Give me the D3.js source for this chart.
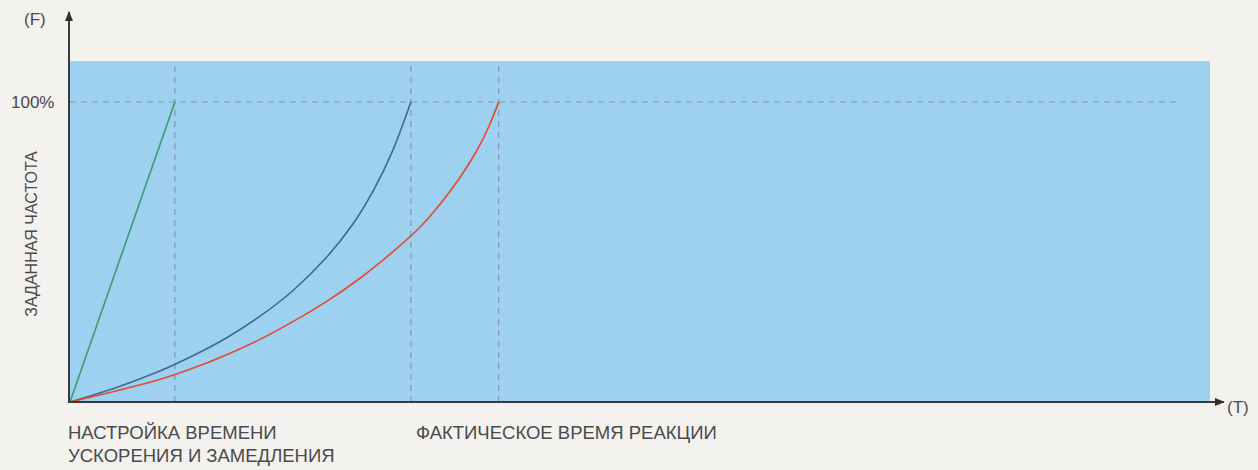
<!DOCTYPE html>
<html>
<head>
<meta charset="utf-8">
<script src="https://cdn.jsdelivr.net/npm/d3@7"></script>
<style>
  body { margin: 0; background: #f3f2ef; }
  svg { display: block; font-family: "Liberation Sans", Arial, sans-serif; }
  .lbl { fill: #4a4a4a; }
</style>
</head>
<body>
<div id="chart"></div>
<script>
// Dades llegides de la imatge (temps en unitats arbitràries 0-100, freqüència en %)
const greenT = [0, 9.2];
const greenF = [0, 100];

const blueT = [0, 3.95, 7.89, 10.82, 13.75, 16.67, 19.59, 22.52, 24.85, 26.61, 28.36, 29.9];
const blueF = [0, 4.5, 10.1, 15.4, 21.2, 28.4, 36.8, 47.9, 59.0, 70.1, 83.4, 100];

const redT = [0, 3.95, 7.89, 10.82, 13.75, 16.67, 19.59, 22.52, 25.44, 28.36, 30.70, 32.46, 34.21, 35.68, 36.84, 37.6];
const redF = [0, 3.6, 7.3, 11.2, 15.7, 20.7, 26.8, 33.4, 41.0, 50.1, 57.9, 65.7, 74.6, 83.4, 92.3, 100];

const markerT = [9.2, 29.9, 37.6];      // línies verticals discontínues
const targetF = 100;                     // línia horitzontal 100%
const targetEndT = 97;
const zoneTop = 113.6;                   // part superior de la zona blava
const axisMaxT = 100.6;
const axisMaxF = 130;

const width = 1258, height = 470;

const svg = d3.select("#chart")
    .append("svg")
    .attr("width", width)
    .attr("height", height);

const x = d3.scaleLinear().domain([0, 100]).range([70, 1210]);
const y = d3.scaleLinear().domain([0, axisMaxF]).range([402, 12]);

// Zona blava
svg.append("rect")
    .attr("x", x(0))
    .attr("y", y(zoneTop))
    .attr("width", x(100) - x(0))
    .attr("height", y(0) - y(zoneTop))
    .attr("fill", "#9dd1ef");

// Línies de referència discontínues
svg.selectAll(".vref")
    .data(markerT)
    .enter()
    .append("line")
    .attr("x1", d => x(d)).attr("x2", d => x(d))
    .attr("y1", y(0)).attr("y2", y(zoneTop))
    .attr("stroke", "#7f9aa8")
    .attr("stroke-width", 1.2)
    .attr("stroke-dasharray", "6,5");

svg.append("line")
    .attr("x1", x(0)).attr("x2", x(targetEndT))
    .attr("y1", y(targetF)).attr("y2", y(targetF))
    .attr("stroke", "#7f9aa8")
    .attr("stroke-width", 1.2)
    .attr("stroke-dasharray", "6,5");

// Corbes (suavitzades amb curveBasis per evitar les petites irregularitats de lectura)
const line = d3.line()
    .x(d => x(d[0]))
    .y(d => y(d[1]))
    .curve(d3.curveBasis);

const series = [
    { t: greenT, f: greenF, color: "#3f9a6e" },
    { t: blueT, f: blueF, color: "#3e6b90" },
    { t: redT, f: redF, color: "#e2492f" }
];

series.forEach(s => {
    svg.append("path")
        .datum(s.t.map((t, i) => [t, s.f[i]]))
        .attr("d", line)
        .attr("fill", "none")
        .attr("stroke", s.color)
        .attr("stroke-width", 1.6);
});

// Eixos amb fletxes
svg.append("defs").append("marker")
    .attr("id", "arrow")
    .attr("viewBox", "0 0 10 10")
    .attr("refX", 9).attr("refY", 5)
    .attr("markerWidth", 5).attr("markerHeight", 5)
    .attr("markerUnits", "strokeWidth")
    .attr("orient", "auto")
    .append("path")
    .attr("d", "M0,1 L10,5 L0,9 Z")
    .attr("fill", "#2f2f2f");

svg.append("line")
    .attr("x1", x(0) - 1).attr("x2", x(0) - 1)
    .attr("y1", y(0) + 1).attr("y2", y(axisMaxF))
    .attr("stroke", "#3a3a3a")
    .attr("stroke-width", 2)
    .attr("marker-end", "url(#arrow)");

svg.append("line")
    .attr("x1", x(0) - 2).attr("x2", x(axisMaxT) + 7)
    .attr("y1", y(0)).attr("y2", y(0))
    .attr("stroke", "#3a3a3a")
    .attr("stroke-width", 2)
    .attr("marker-end", "url(#arrow)");

// Etiquetes
svg.append("text").attr("class", "lbl")
    .attr("x", 24).attr("y", 25)
    .style("font-size", "17px")
    .text("(F)");

svg.append("text").attr("class", "lbl")
    .attr("x", 11).attr("y", y(targetF) + 6)
    .style("font-size", "17px")
    .text("100%");

svg.append("text").attr("class", "lbl")
    .attr("x", 1227).attr("y", 413)
    .style("font-size", "17px")
    .text("(T)");

svg.append("text").attr("class", "lbl")
    .attr("transform", "translate(37, 234) rotate(-90)")
    .attr("text-anchor", "middle")
    .style("font-size", "16px")
    .text("ЗАДАННАЯ ЧАСТОТА");

svg.append("text").attr("class", "lbl")
    .attr("x", 68).attr("y", 439)
    .style("font-size", "18.5px")
    .text("НАСТРОЙКА ВРЕМЕНИ");

svg.append("text").attr("class", "lbl")
    .attr("x", 68).attr("y", 462)
    .style("font-size", "18.5px")
    .text("УСКОРЕНИЯ И ЗАМЕДЛЕНИЯ");

svg.append("text").attr("class", "lbl")
    .attr("x", 416).attr("y", 439)
    .style("font-size", "18.5px")
    .text("ФАКТИЧЕСКОЕ ВРЕМЯ РЕАКЦИИ");
</script>
</body>
</html>
